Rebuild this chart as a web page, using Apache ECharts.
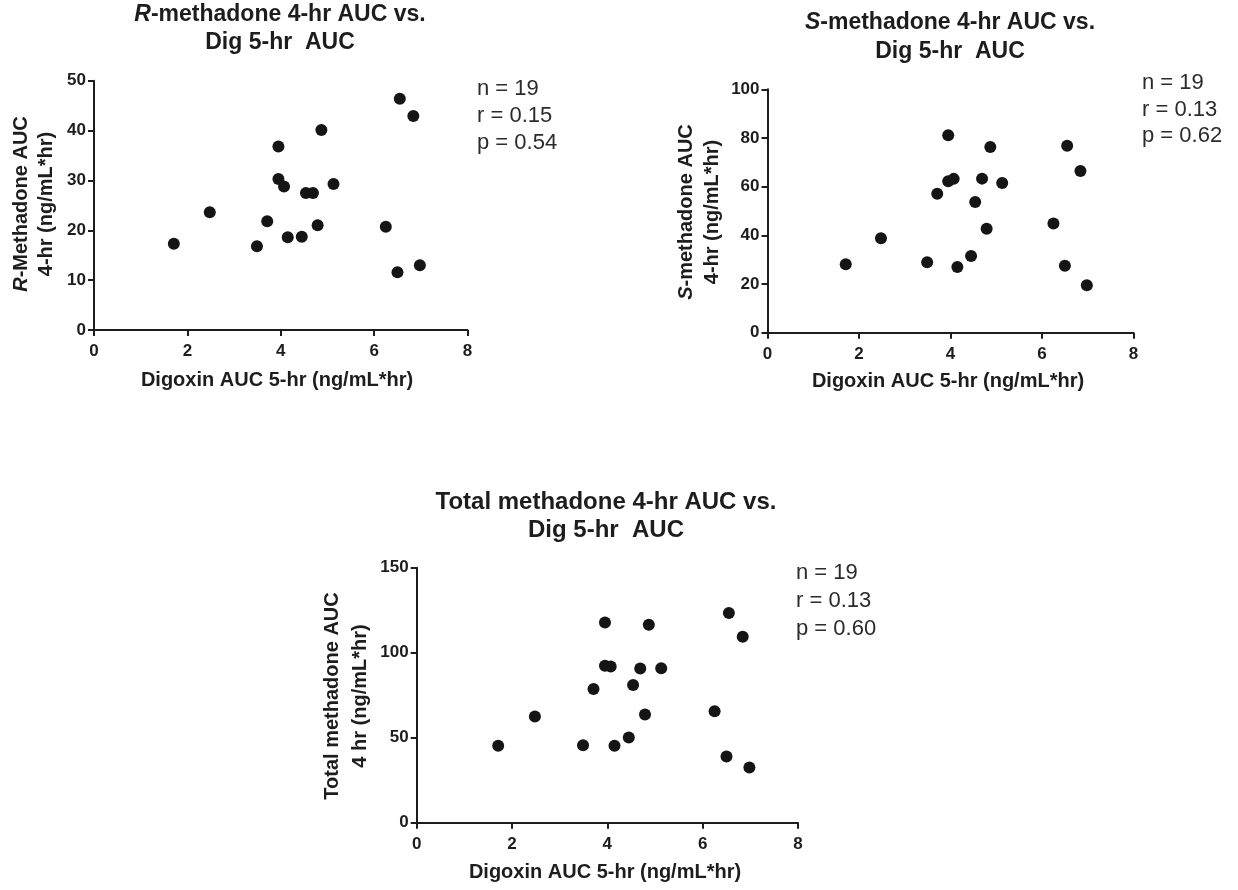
<!DOCTYPE html>
<html>
<head>
<meta charset="utf-8">
<script src="https://cdn.jsdelivr.net/npm/echarts@6/dist/echarts.min.js"></script>
<style>
  html, body { margin: 0; padding: 0; background: #ffffff; }
  #chart { width: 1238px; height: 890px; }
</style>
</head>
<body>
<div id="chart"></div>
<script>
// ---- data ----
const digoxinAUC        = [1.71, 2.48, 3.49, 3.71, 3.95, 3.95, 4.07, 4.15, 4.45, 4.54, 4.69, 4.79, 4.87, 5.13, 6.25, 6.50, 6.55, 6.84, 6.98];
const rMethadoneAUC     = [17.3, 23.6, 16.8, 21.8, 36.8, 30.3, 28.8, 18.6, 18.7, 27.5, 27.5, 21.0, 40.1, 29.3, 20.7, 11.6, 46.4, 42.9, 13.0];
const sMethadoneAUC     = [28.1, 38.8, 28.9, 57.1, 81.1, 62.2, 63.2, 27.0, 31.5, 53.7, 63.3, 42.7, 76.3, 61.5, 44.9, 27.5, 76.8, 66.4, 19.5];
const totalMethadoneAUC = [45.3, 62.5, 45.5, 78.7, 117.7, 92.3, 91.9, 45.3, 50.1, 81.0, 90.7, 63.7, 116.5, 90.9, 65.6, 39.0, 123.4, 109.4, 32.5];

const xTicks     = [0, 2, 4, 6, 8];
const rTicks     = [0, 10, 20, 30, 40, 50];
const sTicks     = [0, 20, 40, 60, 80, 100];
const totalTicks = [0, 50, 100, 150];

const statsR     = ['n = 19', 'r = 0.15', 'p = 0.54'];
const statsS     = ['n = 19', 'r = 0.13', 'p = 0.62'];
const statsTotal = ['n = 19', 'r = 0.13', 'p = 0.60'];

const xAxisTitle = 'Digoxin AUC 5-hr (ng/mL*hr)';

// ---- styling / layout ----
const FONT = 'Arial, "Liberation Sans", Helvetica, sans-serif';
const INK = '#1d1d1d';
const TEXT = '#2b2b2b';

const panels = [
  {
    grid: { left: 94, top: 80.7, width: 373.5, height: 249.3 },
    y: rMethadoneAUC, yTicks: rTicks,
    title: ['{i|R}-methadone 4-hr AUC vs.', 'Dig 5-hr  AUC'], titleX: 280, titleY: [15, 43], titleSize: 23,
    yName: ['{i|R}-Methadone AUC', '4-hr (ng/mL*hr)'], yNameX: [21, 46], yNameY: 204,
    xNameX: 277, xNameY: 380,
    stats: statsR, statsX: 477, statsY: [89, 116, 143]
  },
  {
    grid: { left: 767.5, top: 89.3, width: 366, height: 243.4 },
    y: sMethadoneAUC, yTicks: sTicks,
    title: ['{i|S}-methadone 4-hr AUC vs.', 'Dig 5-hr  AUC'], titleX: 950, titleY: [23, 52], titleSize: 23,
    yName: ['{i|S}-methadone AUC', '4-hr (ng/mL*hr)'], yNameX: [686, 712], yNameY: 212,
    xNameX: 948, xNameY: 381.5,
    stats: statsS, statsX: 1142, statsY: [83, 110, 136]
  },
  {
    grid: { left: 416.7, top: 567.7, width: 381.3, height: 255 },
    y: totalMethadoneAUC, yTicks: totalTicks,
    title: ['Total methadone 4-hr AUC vs.', 'Dig 5-hr  AUC'], titleX: 606, titleY: [502, 530], titleSize: 24,
    yName: ['Total methadone AUC', '4 hr (ng/mL*hr)'], yNameX: [332, 360], yNameY: 696,
    xNameX: 605, xNameY: 872,
    stats: statsTotal, statsX: 796, statsY: [573, 601, 629]
  }
];

function textEl(str, x, y, opts) {
  const size = opts.size;
  return {
    type: 'text',
    x: x, y: y,
    rotation: opts.rotation || 0,
    silent: true,
    style: {
      text: str,
      fill: opts.color || TEXT,
      fontSize: size,
      fontWeight: opts.weight || 'normal',
      fontFamily: FONT,
      align: opts.align || 'center',
      verticalAlign: 'middle',
      textAlign: opts.align || 'center',
      textVerticalAlign: 'middle',
      rich: {
        i: { fontStyle: 'italic', fontWeight: opts.weight || 'normal', fontSize: size, fontFamily: FONT, fill: opts.color || TEXT }
      }
    }
  };
}

const grids = [], xAxes = [], yAxes = [], series = [], graphics = [];

panels.forEach((p, i) => {
  grids.push(Object.assign({ containLabel: false }, p.grid));
  xAxes.push({
    gridIndex: i, type: 'value',
    min: xTicks[0], max: xTicks[xTicks.length - 1], interval: xTicks[1] - xTicks[0],
    axisLine: { show: true, onZero: false, lineStyle: { color: INK, width: 2 } },
    axisTick: { show: true, inside: false, length: 6, lineStyle: { color: INK, width: 2 } },
    axisLabel: { color: INK, fontSize: 17, fontWeight: 'bold', fontFamily: FONT, margin: 13 },
    splitLine: { show: false }
  });
  yAxes.push({
    gridIndex: i, type: 'value',
    min: p.yTicks[0], max: p.yTicks[p.yTicks.length - 1], interval: p.yTicks[1] - p.yTicks[0],
    axisLine: { show: true, onZero: false, lineStyle: { color: INK, width: 2 } },
    axisTick: { show: true, inside: false, length: 6, lineStyle: { color: INK, width: 2 } },
    axisLabel: { color: INK, fontSize: 17, fontWeight: 'bold', fontFamily: FONT, margin: 8 },
    splitLine: { show: false }
  });
  series.push({
    type: 'scatter',
    xAxisIndex: i, yAxisIndex: i,
    symbol: 'circle', symbolSize: 12,
    itemStyle: { color: '#151515', opacity: 1 },
    data: digoxinAUC.map((x, k) => [x, p.y[k]]),
    z: 3
  });

  p.title.forEach((t, k) => {
    graphics.push(textEl(t, p.titleX, p.titleY[k], { size: p.titleSize, weight: 'bold', color: INK }));
  });
  p.yName.forEach((t, k) => {
    graphics.push(textEl(t, p.yNameX[k], p.yNameY, { size: 20, weight: 'bold', color: INK, rotation: Math.PI / 2 }));
  });
  graphics.push(textEl(xAxisTitle, p.xNameX, p.xNameY, { size: 20, weight: 'bold', color: INK }));
  p.stats.forEach((t, k) => {
    graphics.push(textEl(t, p.statsX, p.statsY[k], { size: 22, weight: 'normal', color: TEXT, align: 'left' }));
  });
});

const chart = echarts.init(document.getElementById('chart'), null, { renderer: 'canvas' });
chart.setOption({
  backgroundColor: '#ffffff',
  animation: false,
  grid: grids,
  xAxis: xAxes,
  yAxis: yAxes,
  series: series,
  graphic: { elements: graphics }
});
</script>
</body>
</html>
